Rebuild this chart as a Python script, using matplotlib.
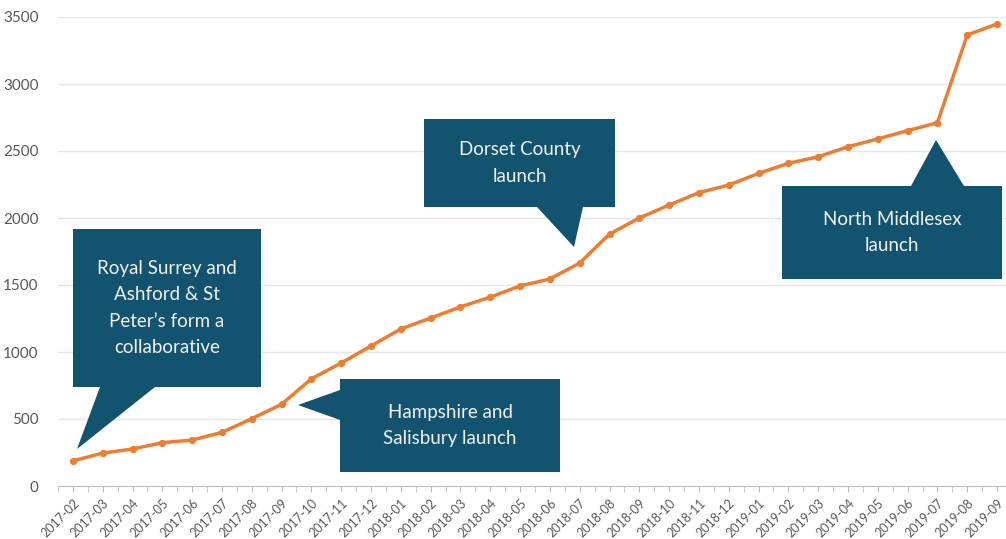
import matplotlib.pyplot as plt
from matplotlib.patches import Polygon

plt.rcParams['font.family'] = ['Lato', 'DejaVu Sans']

# monthly cumulative count
months = ['2017-02', '2017-03', '2017-04', '2017-05', '2017-06', '2017-07', '2017-08', '2017-09',
          '2017-10', '2017-11', '2017-12', '2018-01', '2018-02', '2018-03', '2018-04', '2018-05',
          '2018-06', '2018-07', '2018-08', '2018-09', '2018-10', '2018-11', '2018-12', '2019-01',
          '2019-02', '2019-03', '2019-04', '2019-05', '2019-06', '2019-07', '2019-08', '2019-09']
values = [187, 246, 276, 323, 343, 400, 502, 610,
          800, 918, 1045, 1172, 1254, 1336, 1410, 1493,
          1545, 1664, 1880, 2000, 2097, 2189, 2246, 2333,
          2408, 2457, 2532, 2590, 2652, 2711, 3366, 3448]
y_ticks = [0, 500, 1000, 1500, 2000, 2500, 3000, 3500]

# callouts: text, box (x0, y0, x1, y1) and pointer (base a, base b, tip) in image pixels
callouts = [
    ("Royal Surrey and\nAshford & St\nPeter\u2019s form a\ncollaborative",
     (73, 229, 261, 387), [(100, 387), (155, 387), (77, 449)]),
    ("Hampshire and\nSalisbury launch",
     (340, 379, 560, 472), [(340, 390), (340, 420), (298, 405)]),
    ("Dorset County\nlaunch",
     (424, 119, 615, 207), [(537, 207), (583, 207), (574, 247)]),
    ("North Middlesex\nlaunch",
     (782, 186, 1002, 279), [(911, 186), (964, 186), (936, 140)]),
]

W, H = 1006, 539
fig = plt.figure(figsize=(W / 100, H / 100), dpi=100)
ax = fig.add_axes([58 / W, 53 / H, 948 / W, 469 / H])

x = list(range(len(months)))
ax.plot(x, values, color='#ED7D31', linewidth=2.5, marker='o', markersize=4.2, zorder=3)

ax.set_xlim(-0.5, 31.3)
ax.set_ylim(0, 3500)
ax.set_yticks(y_ticks)
ax.set_xticks(x)
ax.set_xticklabels(months, rotation=45, ha='right', rotation_mode='anchor', fontsize=9, color='#595959')
ax.set_xticks([i - 0.5 for i in x], minor=True)
ax.tick_params(axis='x', which='both', length=4, color='#bfbfbf', pad=4)
ax.tick_params(axis='y', length=0, labelsize=11, labelcolor='#595959', pad=14)
ax.grid(axis='y', color='#e6e6e6', linewidth=1)
ax.set_axisbelow(True)
for s in ['top', 'right', 'left']:
    ax.spines[s].set_visible(False)
ax.spines['bottom'].set_color('#bfbfbf')


def px(p):
    return (p[0] / W, 1 - p[1] / H)


box_color = '#12536F'
for text, (x0, y0, x1, y1), tri in callouts:
    rect = [(x0, y0), (x1, y0), (x1, y1), (x0, y1)]
    fig.patches.append(Polygon([px(p) for p in rect], closed=True, transform=fig.transFigure,
                               facecolor=box_color, edgecolor='none', zorder=5))
    fig.patches.append(Polygon([px(p) for p in tri], closed=True, transform=fig.transFigure,
                               facecolor=box_color, edgecolor='none', zorder=5))
    cx, cy = px(((x0 + x1) / 2, (y0 + y1) / 2))
    fig.text(cx, cy, text, ha='center', va='center', color='#f2f2f2', fontsize=13.5,
             linespacing=1.65, zorder=6)

fig.savefig('out.png', dpi=100)
